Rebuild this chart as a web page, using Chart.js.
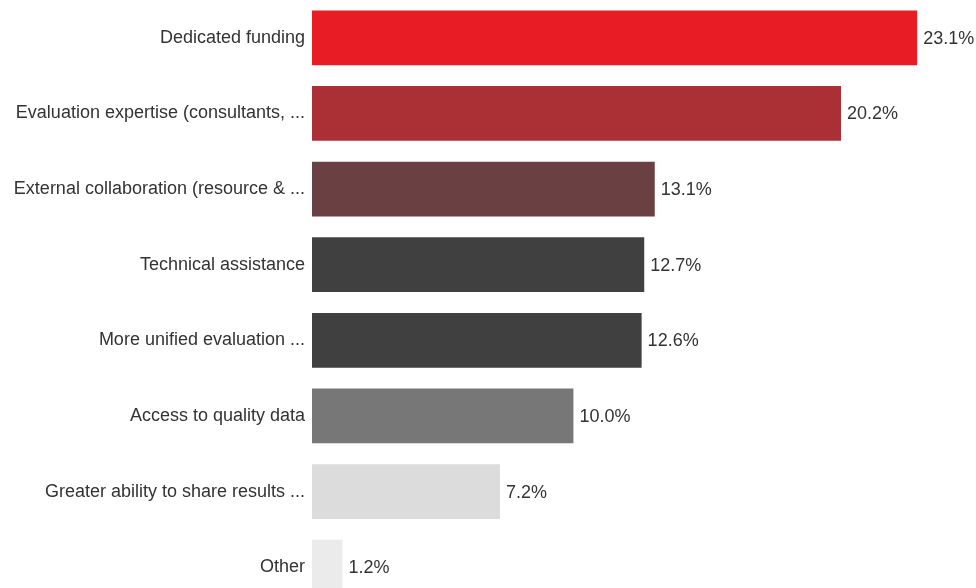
<!DOCTYPE html>
<html>
<head>
<meta charset="utf-8">
<script src="https://cdn.jsdelivr.net/npm/chart.js@4"></script>
<style>
  html, body { margin: 0; padding: 0; background: #fff; overflow: hidden; }
  #wrap { width: 976px; height: 605px; position: relative; }
</style>
</head>
<body>
<div id="wrap"><canvas id="needsChart"></canvas></div>
<script>
// what would help most with evaluation work (share of responses)
const categories = [
  "Dedicated funding",
  "Evaluation expertise (consultants, ...",
  "External collaboration (resource & ...",
  "Technical assistance",
  "More unified evaluation ...",
  "Access to quality data",
  "Greater ability to share results ...",
  "Other"
];
const shares = [23.1, 20.2, 13.1, 12.7, 12.6, 10.0, 7.2, 1.2];
const barColors = ["#e81c24", "#ab3036", "#6b4043", "#404040", "#404040", "#777777", "#dcdcdc", "#ebebeb"];

const FONT = "Liberation Sans, Arial, sans-serif";

// value text at the end of each bar
const valueLabels = {
  id: "valueLabels",
  afterDatasetsDraw(chart) {
    const { ctx } = chart;
    const meta = chart.getDatasetMeta(0);
    ctx.save();
    ctx.font = "18px " + FONT;
    ctx.fillStyle = "#333333";
    ctx.textAlign = "left";
    ctx.textBaseline = "middle";
    meta.data.forEach((bar, i) => {
      ctx.fillText(shares[i].toFixed(1) + "%", bar.x + 5, bar.y + 1);
    });
    ctx.restore();
  }
};

new Chart(document.getElementById("needsChart"), {
  type: "bar",
  data: {
    labels: categories,
    datasets: [{
      data: shares,
      backgroundColor: barColors,
      borderColor: "rgba(255,255,255,0.35)",
      borderWidth: 1,
      barPercentage: 0.75,
      categoryPercentage: 1
    }]
  },
  options: {
    indexAxis: "y",
    responsive: true,
    maintainAspectRatio: false,
    animation: false,
    layout: { padding: { left: 0, right: 8, top: 0, bottom: 0 } },
    plugins: {
      legend: { display: false },
      tooltip: { enabled: false }
    },
    scales: {
      x: {
        display: false,
        min: 0,
        max: 25
      },
      y: {
        afterFit: (scale) => {
          scale.width = 312;
          // let the bands run right to the top and bottom edges
          scale.paddingTop = 0;
          scale.paddingBottom = 0;
        },
        grid: { display: false, drawTicks: false },
        border: { display: false },
        ticks: {
          padding: 7,
          color: "#333333",
          font: { family: FONT, size: 18 }
        }
      }
    }
  },
  plugins: [valueLabels]
});
</script>
</body>
</html>
